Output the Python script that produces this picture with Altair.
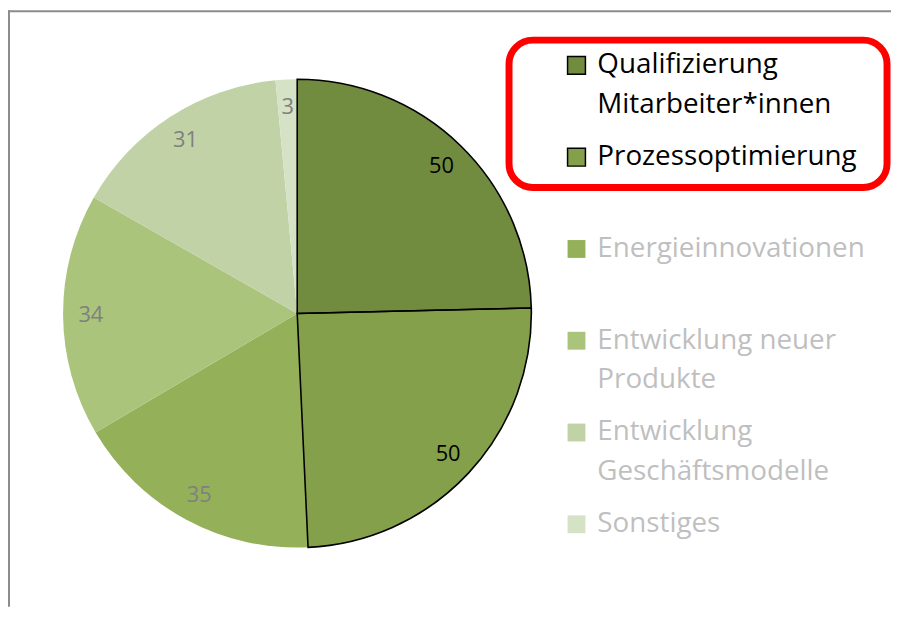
import altair as alt
import pandas as pd

# ---- data ----
categories = [
    "Qualifizierung Mitarbeiter*innen",
    "Prozessoptimierung",
    "Energieinnovationen",
    "Entwicklung neuer Produkte",
    "Entwicklung Geschäftsmodelle",
    "Sonstiges",
]
values = [50, 50, 35, 34, 31, 3]
colors = ["#718B3F", "#84A04A", "#94B058", "#AAC47B", "#C1D3A6", "#D6E2C5"]
highlighted = ["Qualifizierung Mitarbeiter*innen", "Prozessoptimierung"]

df = pd.DataFrame({"cat": categories, "val": values, "idx": list(range(len(categories)))})

W, H = 890, 601
CX, CY = 291.5, 305.5
R = 236
FONT = "Open Sans"

hl_list = "[" + ",".join("'" + h + "'" for h in highlighted) + "]"
is_hl = alt.FieldOneOfPredicate(field="cat", oneOf=highlighted)

legend = alt.Legend(
    orient="none",
    legendX=559,
    legendY=41.5,
    title=None,
    symbolType="square",
    symbolSize=324,
    symbolStrokeWidth=1.5,
    symbolStrokeColor=alt.ExprRef(expr=f"indexof({hl_list}, datum.value) >= 0 ? '#000000' : 'transparent'"),
    labelColor=alt.ExprRef(expr=f"indexof({hl_list}, datum.value) >= 0 ? '#000000' : '#BFBFBF'"),
    labelFont=FONT,
    labelFontSize=28,
    labelOffset=7,
    labelLimit=400,
    rowPadding=24.5,
    labelExpr=(
        "length(datum.label) > 20 ? [substring(datum.label, 0, lastindexof(datum.label, ' ')), "
        "substring(datum.label, lastindexof(datum.label, ' ') + 1)] : [datum.label, '']"
    ),
)

color = alt.Color(
    "cat:N",
    scale=alt.Scale(domain=categories, range=colors),
    sort=categories,
    legend=legend,
)

base = alt.Chart(df).encode(
    theta=alt.Theta("val:Q", stack=True),
    order=alt.Order("idx:Q"),
    x=alt.value(CX),
    y=alt.value(CY),
)

pie = base.mark_arc(outerRadius=R, strokeWidth=0).encode(color=color)

outline = (
    alt.Chart(df)
    .transform_filter(is_hl)
    .mark_arc(outerRadius=R, fillOpacity=0, stroke="black", strokeWidth=1.6)
    .encode(
        theta=alt.Theta("val:Q", stack=True),
        order=alt.Order("idx:Q"),
        x=alt.value(CX),
        y=alt.value(CY),
    )
)

labels = base.mark_text(radius=208, font=FONT, fontSize=22).encode(
    text="val:Q",
    color=alt.condition(is_hl, alt.value("#000000"), alt.value("#808080")),
)

anno = pd.DataFrame({"a": [0]})
red_box = alt.Chart(anno).mark_rect(
    fillOpacity=0, stroke="#FF0000", strokeWidth=7, cornerRadius=24
).encode(x=alt.value(505), x2=alt.value(886), y=alt.value(30), y2=alt.value(178.5))

frame_top = alt.Chart(anno).mark_rule(color="#8C8C8C", strokeWidth=2).encode(
    x=alt.value(0), x2=alt.value(W), y=alt.value(1)
)
frame_left = alt.Chart(anno).mark_rule(color="#8C8C8C", strokeWidth=2).encode(
    x=alt.value(1), y=alt.value(0), y2=alt.value(H)
)

chart = (
    alt.layer(pie, outline, labels, red_box, frame_top, frame_left)
    .properties(width=W, height=H, padding=0, autosize=alt.AutoSizeParams(type="none"))
    .configure(style={"guide-label": alt.MarkConfig(lineHeight=40)})
    .configure_view(stroke=None)
)

chart.save("out.html", embed_options={"renderer": "svg", "actions": False})
